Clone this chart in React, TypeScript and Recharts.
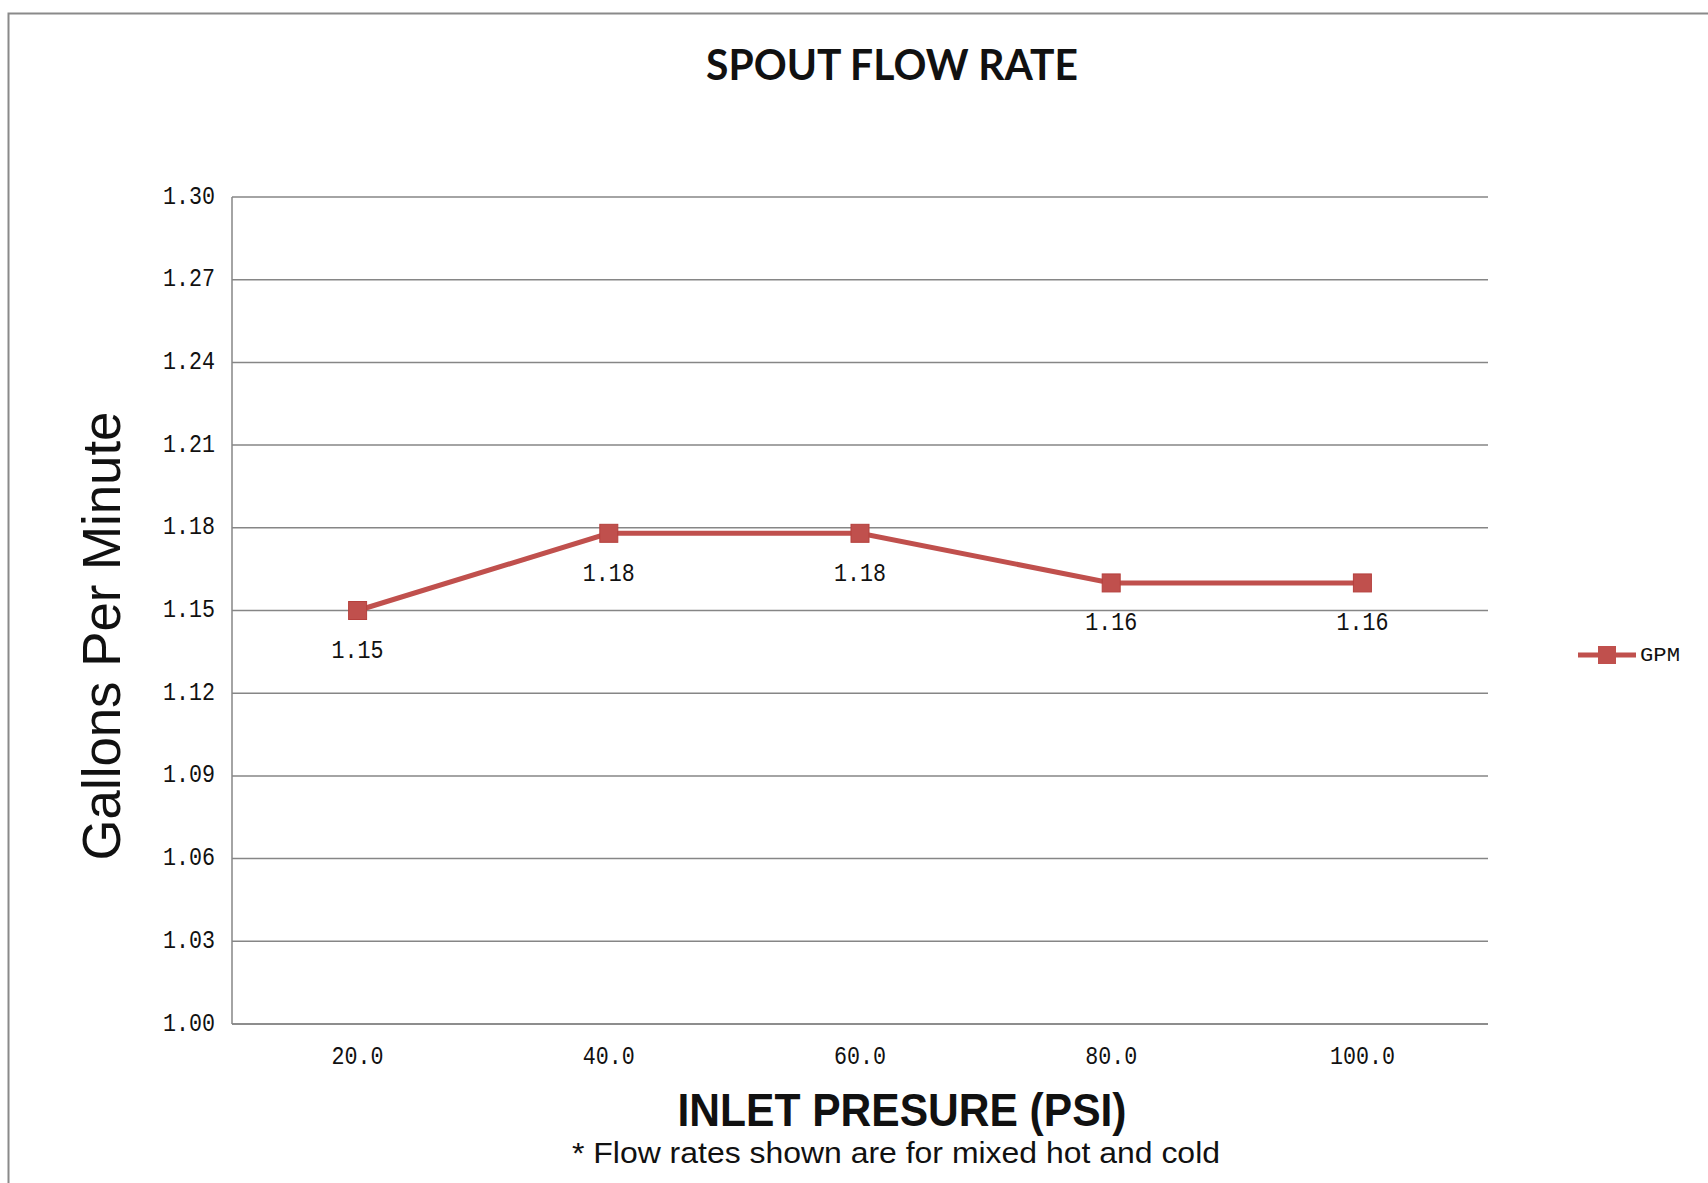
import React from "react";
import {
  LineChart,
  Line,
  XAxis,
  YAxis,
  CartesianGrid,
  Legend,
  LabelList,
} from "recharts";

const pressures = ["20.0", "40.0", "60.0", "80.0", "100.0"];
const gpmValues = [1.15, 1.178, 1.178, 1.16, 1.16];
const gpmLabels = ["1.15", "1.18", "1.18", "1.16", "1.16"];
const yTicks = [1.0, 1.03, 1.06, 1.09, 1.12, 1.15, 1.18, 1.21, 1.24, 1.27, 1.3];

const data = pressures.map((p, i) => ({
  pressure: p,
  gpm: gpmValues[i],
  label: gpmLabels[i],
}));

const RED = "#C0504D";
const GRID = "#868686";
const MONO = "'Liberation Mono', 'DejaVu Sans Mono', monospace";

const W = 1708;
const H = 1183;

const YTick = (props: any) => {
  const { x, y, payload } = props;
  return (
    <text
      x={x}
      y={y}
      textAnchor="end"
      dominantBaseline="central"
      fontFamily={MONO}
      fontSize={25}
      textLength={52}
      lengthAdjust="spacingAndGlyphs"
      fill="#111"
    >
      {Number(payload.value).toFixed(2)}
    </text>
  );
};

const XTick = (props: any) => {
  const { x, y, payload } = props;
  const s = String(payload.value);
  return (
    <text
      x={x}
      y={y + 25}
      textAnchor="middle"
      dominantBaseline="central"
      fontFamily={MONO}
      fontSize={25}
      textLength={s.length * 13}
      lengthAdjust="spacingAndGlyphs"
      fill="#111"
    >
      {s}
    </text>
  );
};

const SquareDot = (props: any) => {
  const { cx, cy } = props;
  if (cx == null || cy == null) return null;
  return (
    <rect
      x={cx - 9}
      y={cy - 9}
      width={18}
      height={18}
      fill={RED}
      stroke="#B5403D"
      strokeWidth={1}
    />
  );
};

const DataLabel = (props: any) => {
  const { x, y, index } = props;
  return (
    <text
      x={x}
      y={y + 41}
      textAnchor="middle"
      dominantBaseline="central"
      fontFamily={MONO}
      fontSize={25}
      textLength={52}
      lengthAdjust="spacingAndGlyphs"
      fill="#111"
    >
      {gpmLabels[index]}
    </text>
  );
};

const LegendContent = () => (
  <svg width={130} height={30} style={{ overflow: "visible" }}>
    <line x1={2} y1={15} x2={60} y2={15} stroke={RED} strokeWidth={5} />
    <rect x={22} y={6} width={18} height={18} fill={RED} />
    <text
      x={64}
      y={15}
      dominantBaseline="central"
      fontFamily={MONO}
      fontSize={20}
      textLength={40}
      lengthAdjust="spacingAndGlyphs"
      fill="#111"
    >
      GPM
    </text>
  </svg>
);

export default function App() {
  return (
    <div
      style={{
        position: "fixed",
        left: 0,
        top: 0,
        width: W,
        height: H,
        background: "#fff",
        overflow: "hidden",
      }}
    >
      <svg
        width={W}
        height={H}
        style={{ position: "absolute", left: 0, top: 0, pointerEvents: "none" }}
      >
        <rect
          x={8.5}
          y={13.5}
          width={1740}
          height={1220}
          fill="#fff"
          stroke="#8a8a8a"
          strokeWidth={2}
        />
      </svg>
      <div style={{ position: "absolute", left: 0, top: 0 }}>
        <LineChart
          width={W}
          height={H}
          data={data}
          margin={{ top: 197, right: 220, left: 0, bottom: 99 }}
        >
          <CartesianGrid vertical={false} stroke={GRID} strokeWidth={1.5} />
          <XAxis
            dataKey="pressure"
            height={60}
            padding={{ left: 125.6, right: 125.6 }}
            axisLine={{ stroke: GRID, strokeWidth: 1.5 }}
            tickLine={false}
            tick={<XTick />}
            interval={0}
          />
          <YAxis
            width={232}
            domain={[1.0, 1.3]}
            ticks={yTicks}
            interval={0}
            axisLine={{ stroke: GRID, strokeWidth: 1.5 }}
            tickLine={false}
            tick={<YTick />}
            tickMargin={11}
          />
          <Legend
            content={<LegendContent />}
            wrapperStyle={{
              position: "absolute",
              left: 1576,
              top: 640,
              width: 0,
              height: 0,
              overflow: "visible",
            }}
          />
          <Line
            type="linear"
            dataKey="gpm"
            name="GPM"
            stroke={RED}
            strokeWidth={5}
            dot={<SquareDot />}
            activeDot={false}
            isAnimationActive={false}
          >
            <LabelList dataKey="gpm" content={<DataLabel />} />
          </Line>
        </LineChart>
      </div>
      <svg
        width={W}
        height={H}
        style={{ position: "absolute", left: 0, top: 0, pointerEvents: "none" }}
      >
        <text
          x={892}
          y={80}
          textAnchor="middle"
          fontFamily="Lato, 'Open Sans', sans-serif"
          fontWeight={700}
          fontSize={42}
          textLength={372}
          lengthAdjust="spacingAndGlyphs"
          fill="#111"
        >
          SPOUT FLOW RATE
        </text>
        <text
          x={120}
          y={636}
          transform="rotate(-90 120 636)"
          textAnchor="middle"
          fontFamily="'Liberation Sans', Arial, sans-serif"
          fontSize={53}
          textLength={449}
          lengthAdjust="spacingAndGlyphs"
          fill="#111"
        >
          Gallons Per Minute
        </text>
        <text
          x={902}
          y={1126}
          textAnchor="middle"
          fontFamily="'Liberation Sans', Arial, sans-serif"
          fontWeight={700}
          fontSize={46}
          textLength={449}
          lengthAdjust="spacingAndGlyphs"
          fill="#111"
        >
          INLET PRESURE (PSI)
        </text>
        <text
          x={896}
          y={1163}
          textAnchor="middle"
          fontFamily="'Liberation Sans', Arial, sans-serif"
          fontSize={30}
          textLength={648}
          lengthAdjust="spacingAndGlyphs"
          fill="#111"
        >
          * Flow rates shown are for mixed hot and cold
        </text>
      </svg>
    </div>
  );
}
